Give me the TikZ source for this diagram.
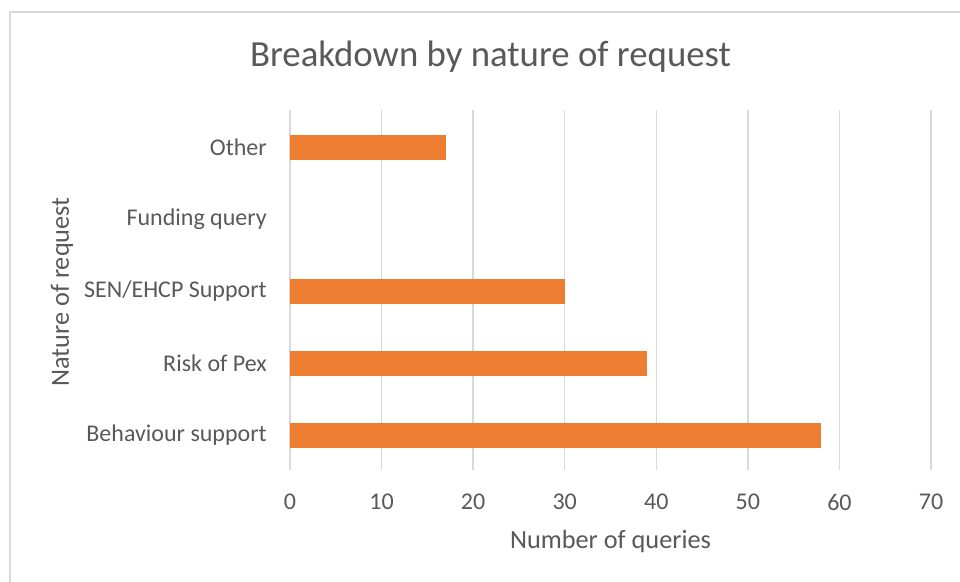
\documentclass[tikz,border=0pt]{standalone}
\usepackage{fontspec}
\setmainfont{Carlito}
\definecolor{txtgray}{HTML}{595959}
\definecolor{gridgray}{HTML}{D9D9D9}
\definecolor{barorange}{HTML}{ED7D31}
\begin{document}
\begin{tikzpicture}[x=1pt,y=-1pt,
  gridline/.style={draw=gridgray,line width=1.5pt},
  bar/.style={fill=barorange,draw=none},
  ticklabel/.style={text=txtgray,font=\fontsize{24}{28}\selectfont,inner sep=0pt},
  axistitle/.style={text=txtgray,font=\fontsize{26.3}{30}\selectfont,inner sep=0pt},
  charttitle/.style={text=txtgray,font=\fontsize{36.8}{42}\selectfont,inner sep=0pt}]
  \useasboundingbox (0,0) rectangle (960,581);
  \fill[white] (0,0) rectangle (960,581);
  % chart frame (runs past the right and bottom edges)
  \begin{scope}
    \clip (0,0) rectangle (960,581);
    \draw[draw=gridgray,line width=1.5pt] (10,12) rectangle (975,600);
  \end{scope}
  % title
  \node[charttitle] (title) at (490.5,57) {Breakdown by nature of request};
  % vertical grid lines and value labels
  \foreach \v [count=\i from 0] in {0,10,...,70} {
    \pgfmathsetmacro{\xx}{290+\v*9.157}
    \draw[gridline] (\xx,110) -- (\xx,470);
    \node[ticklabel] (xl\i) at (\xx,502) {\v};
  }
  % bars (value * 9.157 px)
  \fill[bar] (290,134.5) rectangle ({290+17*9.157},159.5);
  \fill[bar] (290,278.5) rectangle ({290+30*9.157},303.5);
  \fill[bar] (290,350.5) rectangle ({290+39*9.157},375.5);
  \fill[bar] (290,422.5) rectangle ({290+58*9.157},447.5);
  % category labels
  \node[ticklabel,anchor=east] (c1) at (267,147) {Other};
  \node[ticklabel,anchor=east] (c2) at (267,219) {Funding query};
  \node[ticklabel,anchor=east] (c3) at (267,291) {SEN/EHCP Support};
  \node[ticklabel,anchor=east] (c4) at (267,363) {Risk of Pex};
  \node[ticklabel,anchor=east] (c5) at (267,435) {Behaviour support};
  % axis titles
  \node[axistitle] (xtitle) at (610.5,541) {Number of queries};
  \node[axistitle,rotate=90] (ytitle) at (62,292) {Nature of request};
\end{tikzpicture}
\end{document}
